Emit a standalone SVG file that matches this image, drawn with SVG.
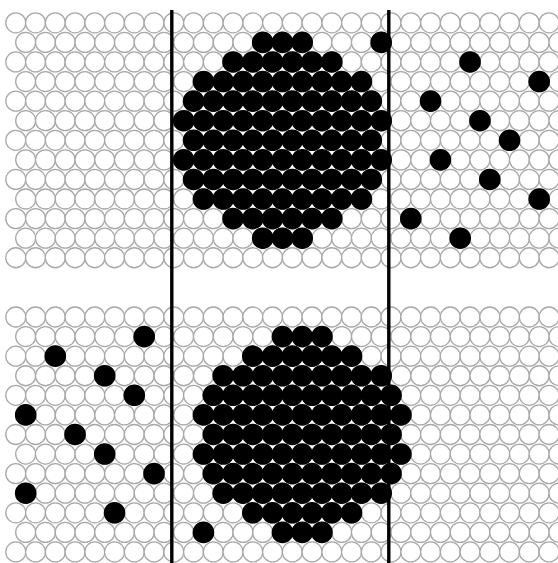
<svg xmlns="http://www.w3.org/2000/svg" xmlns:xlink="http://www.w3.org/1999/xlink" width="558" height="563" viewBox="0 0 558 563">
<style>
.w{fill:#fff;stroke:#a8a8a8;stroke-width:1.3}
.b{fill:#000}
.div{stroke:#000;stroke-width:3.4;fill:none}
</style>
<defs>
<g id="re" class="w">
<circle cx="15.8" cy="0" r="10"/><circle cx="35.55" cy="0" r="10"/><circle cx="55.3" cy="0" r="10"/><circle cx="75.05" cy="0" r="10"/><circle cx="94.8" cy="0" r="10"/><circle cx="114.55" cy="0" r="10"/><circle cx="134.3" cy="0" r="10"/><circle cx="154.05" cy="0" r="10"/><circle cx="173.8" cy="0" r="10"/><circle cx="193.55" cy="0" r="10"/><circle cx="213.3" cy="0" r="10"/><circle cx="233.05" cy="0" r="10"/><circle cx="252.8" cy="0" r="10"/><circle cx="272.55" cy="0" r="10"/><circle cx="292.3" cy="0" r="10"/><circle cx="312.05" cy="0" r="10"/><circle cx="331.8" cy="0" r="10"/><circle cx="351.55" cy="0" r="10"/><circle cx="371.3" cy="0" r="10"/><circle cx="391.05" cy="0" r="10"/><circle cx="410.8" cy="0" r="10"/><circle cx="430.55" cy="0" r="10"/><circle cx="450.3" cy="0" r="10"/><circle cx="470.05" cy="0" r="10"/><circle cx="489.8" cy="0" r="10"/><circle cx="509.55" cy="0" r="10"/><circle cx="529.3" cy="0" r="10"/><circle cx="549.05" cy="0" r="10"/>
</g>
<g id="ro" class="w">
<circle cx="25.7" cy="0" r="10"/><circle cx="45.45" cy="0" r="10"/><circle cx="65.2" cy="0" r="10"/><circle cx="84.95" cy="0" r="10"/><circle cx="104.7" cy="0" r="10"/><circle cx="124.45" cy="0" r="10"/><circle cx="144.2" cy="0" r="10"/><circle cx="163.95" cy="0" r="10"/><circle cx="183.7" cy="0" r="10"/><circle cx="203.45" cy="0" r="10"/><circle cx="223.2" cy="0" r="10"/><circle cx="242.95" cy="0" r="10"/><circle cx="262.7" cy="0" r="10"/><circle cx="282.45" cy="0" r="10"/><circle cx="302.2" cy="0" r="10"/><circle cx="321.95" cy="0" r="10"/><circle cx="341.7" cy="0" r="10"/><circle cx="361.45" cy="0" r="10"/><circle cx="381.2" cy="0" r="10"/><circle cx="400.95" cy="0" r="10"/><circle cx="420.7" cy="0" r="10"/><circle cx="440.45" cy="0" r="10"/><circle cx="460.2" cy="0" r="10"/><circle cx="479.95" cy="0" r="10"/><circle cx="499.7" cy="0" r="10"/><circle cx="519.45" cy="0" r="10"/><circle cx="539.2" cy="0" r="10"/><circle cx="558.95" cy="0" r="10"/>
</g>
<circle id="b" cx="0" cy="0" r="10.8" class="b"/>
</defs>
<rect width="558" height="563" fill="#fff"/>
<g id="grid-top">
<use href="#re" y="22.8"/><use href="#ro" y="42.38"/><use href="#re" y="61.96"/><use href="#ro" y="81.54"/><use href="#re" y="101.12"/><use href="#ro" y="120.7"/><use href="#re" y="140.28"/><use href="#ro" y="159.86"/><use href="#re" y="179.44"/><use href="#ro" y="199.02"/><use href="#re" y="218.6"/><use href="#ro" y="238.18"/><use href="#re" y="257.76"/>
</g>
<g id="grid-bottom">
<use href="#re" y="317"/><use href="#ro" y="336.58"/><use href="#re" y="356.16"/><use href="#ro" y="375.74"/><use href="#re" y="395.32"/><use href="#ro" y="414.9"/><use href="#re" y="434.48"/><use href="#ro" y="454.06"/><use href="#re" y="473.64"/><use href="#ro" y="493.22"/><use href="#re" y="512.8"/><use href="#ro" y="532.38"/><use href="#re" y="551.96"/>
</g>
<g id="top-middle-blob">
<use href="#b" x="262.7" y="42.38"/><use href="#b" x="282.45" y="42.38"/><use href="#b" x="302.2" y="42.38"/><use href="#b" x="381.2" y="42.38"/>
<use href="#b" x="233.05" y="61.96"/><use href="#b" x="252.8" y="61.96"/><use href="#b" x="272.55" y="61.96"/><use href="#b" x="292.3" y="61.96"/><use href="#b" x="312.05" y="61.96"/><use href="#b" x="331.8" y="61.96"/>
<use href="#b" x="203.45" y="81.54"/><use href="#b" x="223.2" y="81.54"/><use href="#b" x="242.95" y="81.54"/><use href="#b" x="262.7" y="81.54"/><use href="#b" x="282.45" y="81.54"/><use href="#b" x="302.2" y="81.54"/><use href="#b" x="321.95" y="81.54"/><use href="#b" x="341.7" y="81.54"/><use href="#b" x="361.45" y="81.54"/>
<use href="#b" x="193.55" y="101.12"/><use href="#b" x="213.3" y="101.12"/><use href="#b" x="233.05" y="101.12"/><use href="#b" x="252.8" y="101.12"/><use href="#b" x="272.55" y="101.12"/><use href="#b" x="292.3" y="101.12"/><use href="#b" x="312.05" y="101.12"/><use href="#b" x="331.8" y="101.12"/><use href="#b" x="351.55" y="101.12"/><use href="#b" x="371.3" y="101.12"/>
<use href="#b" x="183.7" y="120.7"/><use href="#b" x="203.45" y="120.7"/><use href="#b" x="223.2" y="120.7"/><use href="#b" x="242.95" y="120.7"/><use href="#b" x="262.7" y="120.7"/><use href="#b" x="282.45" y="120.7"/><use href="#b" x="302.2" y="120.7"/><use href="#b" x="321.95" y="120.7"/><use href="#b" x="341.7" y="120.7"/><use href="#b" x="361.45" y="120.7"/><use href="#b" x="381.2" y="120.7"/>
<use href="#b" x="193.55" y="140.28"/><use href="#b" x="213.3" y="140.28"/><use href="#b" x="233.05" y="140.28"/><use href="#b" x="252.8" y="140.28"/><use href="#b" x="272.55" y="140.28"/><use href="#b" x="292.3" y="140.28"/><use href="#b" x="312.05" y="140.28"/><use href="#b" x="331.8" y="140.28"/><use href="#b" x="351.55" y="140.28"/><use href="#b" x="371.3" y="140.28"/>
<use href="#b" x="183.7" y="159.86"/><use href="#b" x="203.45" y="159.86"/><use href="#b" x="223.2" y="159.86"/><use href="#b" x="242.95" y="159.86"/><use href="#b" x="262.7" y="159.86"/><use href="#b" x="282.45" y="159.86"/><use href="#b" x="302.2" y="159.86"/><use href="#b" x="321.95" y="159.86"/><use href="#b" x="341.7" y="159.86"/><use href="#b" x="361.45" y="159.86"/><use href="#b" x="381.2" y="159.86"/>
<use href="#b" x="193.55" y="179.44"/><use href="#b" x="213.3" y="179.44"/><use href="#b" x="233.05" y="179.44"/><use href="#b" x="252.8" y="179.44"/><use href="#b" x="272.55" y="179.44"/><use href="#b" x="292.3" y="179.44"/><use href="#b" x="312.05" y="179.44"/><use href="#b" x="331.8" y="179.44"/><use href="#b" x="351.55" y="179.44"/><use href="#b" x="371.3" y="179.44"/>
<use href="#b" x="203.45" y="199.02"/><use href="#b" x="223.2" y="199.02"/><use href="#b" x="242.95" y="199.02"/><use href="#b" x="262.7" y="199.02"/><use href="#b" x="282.45" y="199.02"/><use href="#b" x="302.2" y="199.02"/><use href="#b" x="321.95" y="199.02"/><use href="#b" x="341.7" y="199.02"/><use href="#b" x="361.45" y="199.02"/>
<use href="#b" x="233.05" y="218.6"/><use href="#b" x="252.8" y="218.6"/><use href="#b" x="272.55" y="218.6"/><use href="#b" x="292.3" y="218.6"/><use href="#b" x="312.05" y="218.6"/><use href="#b" x="331.8" y="218.6"/>
<use href="#b" x="262.7" y="238.18"/><use href="#b" x="282.45" y="238.18"/><use href="#b" x="302.2" y="238.18"/>
</g>
<g id="top-right-scatter">
<use href="#b" x="470.05" y="61.96"/><use href="#b" x="539.2" y="81.54"/><use href="#b" x="430.55" y="101.12"/><use href="#b" x="479.95" y="120.7"/><use href="#b" x="509.55" y="140.28"/><use href="#b" x="440.45" y="159.86"/><use href="#b" x="489.8" y="179.44"/><use href="#b" x="539.2" y="199.02"/><use href="#b" x="410.8" y="218.6"/><use href="#b" x="460.2" y="238.18"/>
</g>
<g id="bottom-left-scatter">
<use href="#b" x="144.2" y="336.58"/><use href="#b" x="55.3" y="356.16"/><use href="#b" x="104.7" y="375.74"/><use href="#b" x="134.3" y="395.32"/><use href="#b" x="25.7" y="414.9"/><use href="#b" x="75.05" y="434.48"/><use href="#b" x="104.7" y="454.06"/><use href="#b" x="154.05" y="473.64"/><use href="#b" x="25.7" y="493.22"/><use href="#b" x="114.55" y="512.8"/>
</g>
<g id="bottom-middle-blob">
<use href="#b" x="282.45" y="336.58"/><use href="#b" x="302.2" y="336.58"/><use href="#b" x="321.95" y="336.58"/>
<use href="#b" x="252.8" y="356.16"/><use href="#b" x="272.55" y="356.16"/><use href="#b" x="292.3" y="356.16"/><use href="#b" x="312.05" y="356.16"/><use href="#b" x="331.8" y="356.16"/><use href="#b" x="351.55" y="356.16"/>
<use href="#b" x="223.2" y="375.74"/><use href="#b" x="242.95" y="375.74"/><use href="#b" x="262.7" y="375.74"/><use href="#b" x="282.45" y="375.74"/><use href="#b" x="302.2" y="375.74"/><use href="#b" x="321.95" y="375.74"/><use href="#b" x="341.7" y="375.74"/><use href="#b" x="361.45" y="375.74"/><use href="#b" x="381.2" y="375.74"/>
<use href="#b" x="213.3" y="395.32"/><use href="#b" x="233.05" y="395.32"/><use href="#b" x="252.8" y="395.32"/><use href="#b" x="272.55" y="395.32"/><use href="#b" x="292.3" y="395.32"/><use href="#b" x="312.05" y="395.32"/><use href="#b" x="331.8" y="395.32"/><use href="#b" x="351.55" y="395.32"/><use href="#b" x="371.3" y="395.32"/><use href="#b" x="391.05" y="395.32"/>
<use href="#b" x="203.45" y="414.9"/><use href="#b" x="223.2" y="414.9"/><use href="#b" x="242.95" y="414.9"/><use href="#b" x="262.7" y="414.9"/><use href="#b" x="282.45" y="414.9"/><use href="#b" x="302.2" y="414.9"/><use href="#b" x="321.95" y="414.9"/><use href="#b" x="341.7" y="414.9"/><use href="#b" x="361.45" y="414.9"/><use href="#b" x="381.2" y="414.9"/><use href="#b" x="400.95" y="414.9"/>
<use href="#b" x="213.3" y="434.48"/><use href="#b" x="233.05" y="434.48"/><use href="#b" x="252.8" y="434.48"/><use href="#b" x="272.55" y="434.48"/><use href="#b" x="292.3" y="434.48"/><use href="#b" x="312.05" y="434.48"/><use href="#b" x="331.8" y="434.48"/><use href="#b" x="351.55" y="434.48"/><use href="#b" x="371.3" y="434.48"/><use href="#b" x="391.05" y="434.48"/>
<use href="#b" x="203.45" y="454.06"/><use href="#b" x="223.2" y="454.06"/><use href="#b" x="242.95" y="454.06"/><use href="#b" x="262.7" y="454.06"/><use href="#b" x="282.45" y="454.06"/><use href="#b" x="302.2" y="454.06"/><use href="#b" x="321.95" y="454.06"/><use href="#b" x="341.7" y="454.06"/><use href="#b" x="361.45" y="454.06"/><use href="#b" x="381.2" y="454.06"/><use href="#b" x="400.95" y="454.06"/>
<use href="#b" x="213.3" y="473.64"/><use href="#b" x="233.05" y="473.64"/><use href="#b" x="252.8" y="473.64"/><use href="#b" x="272.55" y="473.64"/><use href="#b" x="292.3" y="473.64"/><use href="#b" x="312.05" y="473.64"/><use href="#b" x="331.8" y="473.64"/><use href="#b" x="351.55" y="473.64"/><use href="#b" x="371.3" y="473.64"/><use href="#b" x="391.05" y="473.64"/>
<use href="#b" x="223.2" y="493.22"/><use href="#b" x="242.95" y="493.22"/><use href="#b" x="262.7" y="493.22"/><use href="#b" x="282.45" y="493.22"/><use href="#b" x="302.2" y="493.22"/><use href="#b" x="321.95" y="493.22"/><use href="#b" x="341.7" y="493.22"/><use href="#b" x="361.45" y="493.22"/><use href="#b" x="381.2" y="493.22"/>
<use href="#b" x="252.8" y="512.8"/><use href="#b" x="272.55" y="512.8"/><use href="#b" x="292.3" y="512.8"/><use href="#b" x="312.05" y="512.8"/><use href="#b" x="331.8" y="512.8"/><use href="#b" x="351.55" y="512.8"/>
<use href="#b" x="203.45" y="532.38"/><use href="#b" x="282.45" y="532.38"/><use href="#b" x="302.2" y="532.38"/><use href="#b" x="321.95" y="532.38"/>
</g>
<g id="dividers">
<line class="div" x1="171.8" y1="10" x2="171.8" y2="563"/>
<line class="div" x1="388.8" y1="10" x2="388.8" y2="563"/>
</g>
</svg>
